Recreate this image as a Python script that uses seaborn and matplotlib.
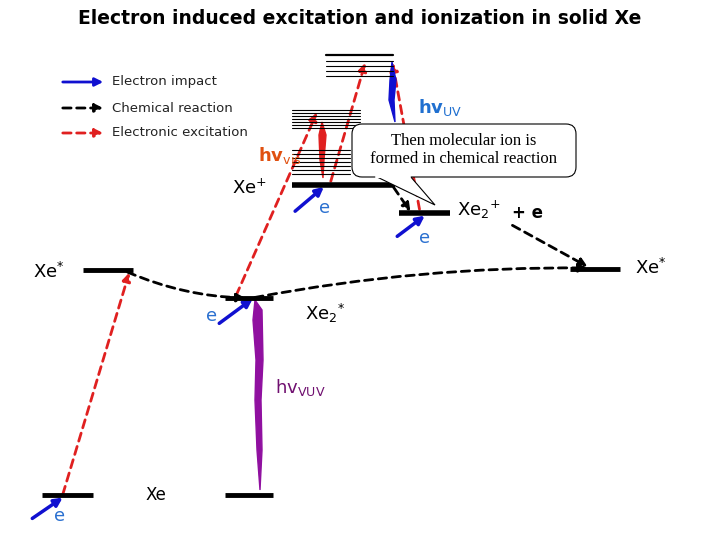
import numpy as np
import matplotlib
matplotlib.use("Agg")
import matplotlib.pyplot as plt
import seaborn as sns
from matplotlib.patches import FancyArrowPatch, FancyBboxPatch, Polygon

sns.set_theme(style="white")
plt.rcParams['font.family'] = ['DejaVu Sans']
plt.rcParams['text.color'] = 'black'

# energy levels: x start, x end, y (pixel units, y down), line width
level_x0 = [42, 225, 83, 570, 225, 292, 399]
level_x1 = [93, 273, 133, 620, 273, 395, 450]
level_y = [495, 495, 270, 269, 298, 185, 213]
level_lw = [3.5, 3.5, 3.5, 3.5, 3.5, 4, 4]

# thin excited manifolds
band_a_y = [110, 113, 116, 119, 122, 125, 128]
band_b_y = [150, 154, 158, 162, 166, 170, 174]
band_c_y = [55, 61, 66, 71, 76]

# electron impacts (blue): start, end
e_start = [(30, 520), (217, 325), (293, 213), (395, 238)]
e_end = [(65, 496), (255, 297), (326, 185), (427, 214)]
e_lbl = [(60, 516), (212, 316), (325, 208), (425, 238)]

# electronic excitations (red dashed)
ex_start = [(62, 497), (235, 298), (330, 184), (420, 212)]
ex_end = [(130, 270), (318, 110), (366, 60), (392, 60)]

# chemical reactions (black dashed)
ch_start = [(125, 271), (392, 185), (510, 224), (252, 298)]
ch_end = [(248, 298), (412, 214), (590, 268), (590, 268)]
ch_rad = [0.1, 0.0, 0.0, -0.05]

fig = plt.figure(figsize=(7.2, 5.4), dpi=100)
ax = fig.add_axes([0, 0, 1, 1])
ax.set_xlim(0, 720)
ax.set_ylim(540, 0)
ax.axis('off')

for x0, x1, y, lw in zip(level_x0, level_x1, level_y, level_lw):
    ax.plot([x0, x1], [y, y], color='black', lw=lw, solid_capstyle='butt')
for y in band_a_y:
    ax.plot([292, 360], [y, y], color='black', lw=0.8)
for y in band_b_y:
    ax.plot([292, 350], [y, y], color='black', lw=0.8)
for y in band_c_y:
    ax.plot([326, 393], [y, y], color='black', lw=1.6 if y == 55 else 0.8)

def arrow(p0, p1, color, ls='-', rad=0.0, lw=1.8):
    ax.add_patch(FancyArrowPatch(p0, p1, arrowstyle='-|>', mutation_scale=12,
                                 color=color, lw=lw, linestyle=ls,
                                 connectionstyle=f"arc3,rad={rad}"))

for p0, p1 in zip(e_start, e_end):
    arrow(p0, p1, '#1010d0', lw=2.5)
for (x, y) in e_lbl:
    ax.text(x, y, 'e', color='#2a70d0', fontsize=13, ha='center', va='center')
for p0, p1 in zip(ex_start, ex_end):
    arrow(p0, p1, '#e02020', ls=(0, (3, 2)), lw=2)
for p0, p1, r in zip(ch_start, ch_end, ch_rad):
    arrow(p0, p1, 'black', ls=(0, (3, 2)), rad=r, lw=2)

# photon emissions (wavy filled)
ax.add_patch(Polygon([(255, 300), (262, 310), (263, 360), (261, 400), (262, 450),
                      (260, 490), (257, 450), (255, 400), (256, 360), (253, 320)],
                     closed=True, color='#9010a0'))
ax.add_patch(Polygon([(322, 122), (326, 135), (324, 160), (323, 178), (320, 160), (319, 135)],
                     closed=True, color='#e02020'))
ax.add_patch(Polygon([(392, 62), (396, 80), (394, 100), (395, 122), (389, 100), (390, 80)],
                     closed=True, color='#1010d0'))

# callout
ax.add_patch(Polygon([(375, 176), (435, 205), (410, 176)], closed=True,
                     facecolor='white', edgecolor='black', lw=0.8, zorder=4))
ax.add_patch(FancyBboxPatch((352, 124), 224, 53, boxstyle="round,pad=0,rounding_size=10",
                            facecolor='white', edgecolor='black', lw=0.8, zorder=5))
ax.plot([376, 410], [177, 177], color='white', lw=1.5, zorder=6)
ax.text(464, 150, 'Then molecular ion is\nformed in chemical reaction',
        family='Liberation Serif', fontsize=12, ha='center', va='center',
        linespacing=1.1, zorder=7)

# legend
leg_y = [82, 108, 133]
leg_txt = ['Electron impact', 'Chemical reaction', 'Electronic excitation']
leg_col = ['#1010d0', 'black', '#e02020']
leg_ls = ['-', (0, (3, 2)), (0, (3, 2))]
for y, t, c, ls in zip(leg_y, leg_txt, leg_col, leg_ls):
    arrow((60, y), (106, y), c, ls=ls, lw=2)
    ax.text(112, y, t, fontsize=9.5, va='center', color='#222222')

ax.text(360, 18, 'Electron induced excitation and ionization in solid Xe',
        fontsize=13.5, fontweight='bold', ha='center', va='center')
ax.text(418, 108, r'hv$_{\rm UV}$', color='#2070d0', fontsize=13, fontweight='bold', va='center')
ax.text(258, 156, r'hv$_{\rm vis}$', color='#e05010', fontsize=13, fontweight='bold', va='center')
ax.text(232, 188, r'Xe$^{+}$', fontsize=13, va='center')
ax.text(457, 210, r'Xe$_2$$^{+}$', fontsize=13, va='center')
ax.text(512, 213, '+ e', fontsize=12, fontweight='bold', va='center')
ax.text(33, 272, r'Xe$^{*}$', fontsize=13, va='center')
ax.text(635, 268, r'Xe$^{*}$', fontsize=13, va='center')
ax.text(305, 313, r'Xe$_2$$^{*}$', fontsize=13, va='center')
ax.text(275, 388, r'hv$_{\rm VUV}$', color='#701070', fontsize=13, va='center')
ax.text(145, 495, 'Xe', fontsize=12, va='center')

fig.savefig('out.png', dpi=100)
